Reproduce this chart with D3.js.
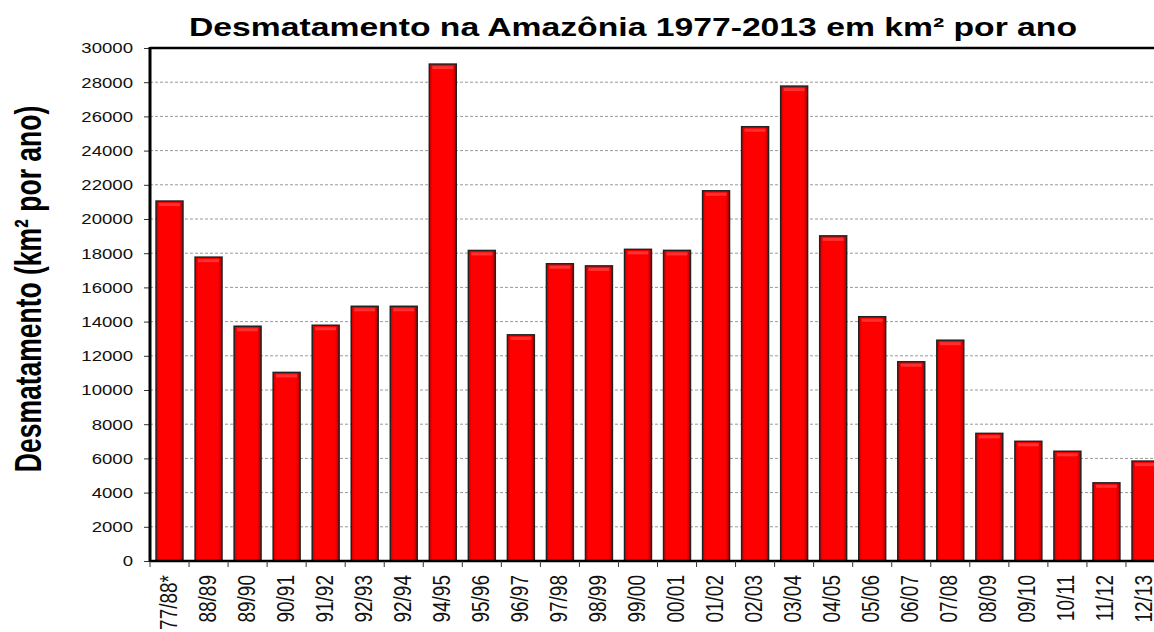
<!DOCTYPE html>
<html>
<head>
<meta charset="utf-8">
<script src="https://cdn.jsdelivr.net/npm/d3@7"></script>
<style>
  html, body { margin: 0; padding: 0; background: #fff; }
  text { font-family: Arial, "Liberation Sans", sans-serif; }
</style>
</head>
<body>
<div id="chart"></div>
<script>
var periodos = ["77/88*", "88/89", "89/90", "90/91", "91/92", "92/93", "92/94", "94/95",
  "95/96", "96/97", "97/98", "98/99", "99/00", "00/01", "01/02", "02/03", "03/04",
  "04/05", "05/06", "06/07", "07/08", "08/09", "09/10", "10/11", "11/12", "12/13"];
var desmatamento = [21050, 17770, 13730, 11030, 13786, 14896, 14896, 29059,
  18161, 13227, 17383, 17259, 18226, 18165, 21651, 25396, 27772,
  19014, 14286, 11651, 12911, 7464, 7000, 6418, 4571, 5843];
var yTicks = d3.range(0, 30001, 2000);

var width = 1154, height = 632;
var x0 = 150, x1 = 1165, yTop = 48, yBase = 561;
var stretch = 1.25; // the source picture is a little wider than tall

var svg = d3.select("#chart").append("svg")
  .attr("width", width)
  .attr("height", height);

var grad = svg.append("defs").append("linearGradient")
  .attr("id", "barGrad")
  .attr("x1", "0%").attr("x2", "100%").attr("y1", "0%").attr("y2", "0%");
grad.append("stop").attr("offset", "0%").attr("stop-color", "#c80000");
grad.append("stop").attr("offset", "12%").attr("stop-color", "#ff0000");
grad.append("stop").attr("offset", "85%").attr("stop-color", "#ff0000");
grad.append("stop").attr("offset", "100%").attr("stop-color", "#b00000");

var x = d3.scaleBand()
  .domain(periodos)
  .range([x0, x1])
  .paddingInner(0.31)
  .paddingOuter(0.155);

var y = d3.scaleLinear()
  .domain([0, 30000])
  .range([yBase, yTop]);

// gridlines
svg.append("g")
  .selectAll("line")
  .data(yTicks.filter(function(d) { return d > 0 && d < 30000; }))
  .enter().append("line")
  .attr("x1", x0).attr("x2", width)
  .attr("y1", function(d) { return y(d); })
  .attr("y2", function(d) { return y(d); })
  .attr("stroke", "#999")
  .attr("stroke-width", 1)
  .attr("stroke-dasharray", "3,2");

// y axis
var yAxis = svg.append("g")
  .attr("transform", "translate(" + x0 + ",0)")
  .call(d3.axisLeft(y).tickValues(yTicks).tickFormat(d3.format("d")).tickSize(6));
yAxis.select(".domain").remove();
yAxis.selectAll(".tick line").attr("stroke", "#333");
yAxis.selectAll("text")
  .attr("x", 0)
  .attr("transform", "translate(-17,0) scale(1.2,1)")
  .attr("font-size", "15.5px")
  .attr("fill", "#111");

// bars
var bars = svg.append("g")
  .selectAll("g")
  .data(periodos)
  .enter().append("g");

bars.append("rect")
  .attr("x", function(d) { return x(d); })
  .attr("y", function(d, i) { return y(desmatamento[i]); })
  .attr("width", x.bandwidth())
  .attr("height", function(d, i) { return yBase - y(desmatamento[i]); })
  .attr("fill", "url(#barGrad)")
  .attr("stroke", "#222")
  .attr("stroke-width", 1.5);

bars.append("rect")
  .attr("x", function(d) { return x(d) + 3; })
  .attr("y", function(d, i) { return y(desmatamento[i]) + 2; })
  .attr("width", x.bandwidth() - 6)
  .attr("height", 3)
  .attr("fill", "#ff5050")
  .attr("opacity", 0.6);

// frame lines
svg.append("line")
  .attr("x1", x0).attr("x2", width).attr("y1", yTop).attr("y2", yTop)
  .attr("stroke", "#000").attr("stroke-width", 2.5);
svg.append("line")
  .attr("x1", x0).attr("x2", width).attr("y1", yBase).attr("y2", yBase)
  .attr("stroke", "#000").attr("stroke-width", 2.5);
svg.append("line")
  .attr("x1", x0).attr("x2", x0).attr("y1", yTop - 1).attr("y2", yBase + 1)
  .attr("stroke", "#000").attr("stroke-width", 3);

// x ticks at band boundaries
var step = x.step();
svg.append("g")
  .selectAll("line")
  .data(periodos)
  .enter().append("line")
  .attr("x1", function(d) { return x(d) - x.paddingOuter() * step; })
  .attr("x2", function(d) { return x(d) - x.paddingOuter() * step; })
  .attr("y1", yBase).attr("y2", yBase + 6)
  .attr("stroke", "#333");

// x labels
svg.append("g")
  .selectAll("text")
  .data(periodos)
  .enter().append("text")
  .attr("transform", function(d) {
    return "translate(" + (x(d) + x.bandwidth() / 2 + 7) + "," + 575 + ") rotate(-90) scale(1," + stretch + ")";
  })
  .attr("text-anchor", "end")
  .attr("font-size", "19px")
  .attr("fill", "#111")
  .text(function(d) { return d; });

// title
svg.append("text")
  .attr("x", 189).attr("y", 36)
  .attr("font-size", "26px")
  .attr("font-weight", "bold")
  .attr("textLength", 888)
  .attr("lengthAdjust", "spacingAndGlyphs")
  .text("Desmatamento na Amazônia 1977-2013 em km² por ano");

// y axis label
svg.append("text")
  .attr("transform", "translate(41,289) rotate(-90) scale(1,1.4)")
  .attr("text-anchor", "middle")
  .attr("font-size", "26.5px")
  .attr("font-weight", "bold")
  .text("Desmatamento (km² por ano)");
</script>
</body>
</html>
